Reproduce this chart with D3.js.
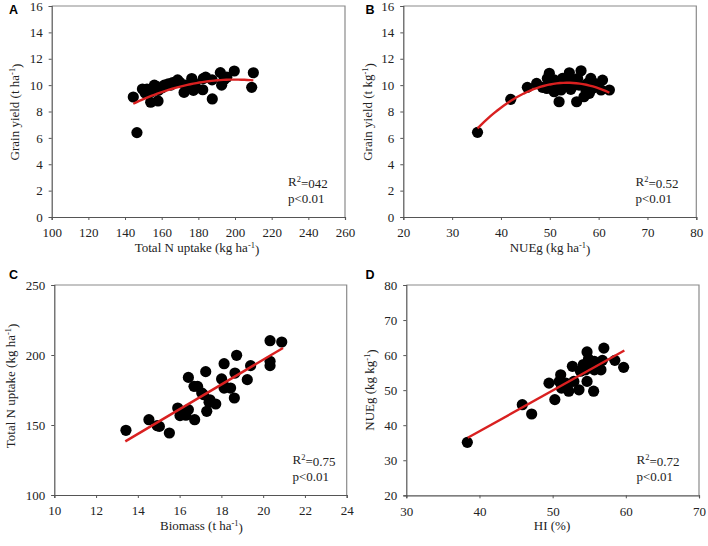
<!DOCTYPE html>
<html><head><meta charset="utf-8">
<script src="https://cdn.jsdelivr.net/npm/d3@7"></script>
<style>
body{margin:0;background:#fff}
text{font-family:"Liberation Serif","Times New Roman",serif;fill:#222}
.lbl{font-family:"Liberation Sans",Arial,sans-serif;font-weight:bold;fill:#000}
</style>
</head><body>
<svg id="c" width="708" height="546"></svg>
<script>
// ---- data ----
const aX=[144.5,146.5,149.5,151,152,154,154.5,156,157,158,158.2,160.3,161.4,163.6,165,166,168.7,170,172.2,173.3,175,176.4,177.3,178.2,182.4,182.7,184,187.5,187.6,192,192.7,194,195.5,199.6,209.1,210];
const aY=[9.1,6.4,9.7,9.4,9.7,8.7,9.5,10.0,9.9,8.8,9.6,9.8,10.0,10.1,10.0,10.2,10.4,10.2,9.45,10.0,9.8,10.5,9.6,10.1,9.65,10.5,10.6,10.4,8.95,10.95,10.0,10.4,10.6,11.07,9.83,10.94];
const bX=[35.2,42.0,45.4,47.3,48.5,49.4,49.5,49.9,50.2,50.9,50.9,51.2,51.9,51.9,52.3,52.6,53.3,54.0,54.3,54.3,55.0,55.5,55.7,56.0,56.4,57.0,57.4,57.7,58.1,58.4,58.7,59.1,59.8,60.5,60.8,62.2];
const bY=[6.42,8.92,9.83,10.13,9.83,9.75,10.51,10.9,10.13,9.5,10.4,9.88,10.26,8.74,9.63,10.51,10.13,10.94,10.38,9.68,10.0,8.74,10.5,10.0,11.09,9.12,9.63,10.13,9.38,10.51,9.75,10.13,10.0,9.63,10.38,9.63];
const cX=[13.43,14.53,14.93,15.03,15.51,15.91,16.02,16.1,16.26,16.3,16.42,16.42,16.72,16.69,16.86,17.06,17.14,17.25,17.30,17.41,17.45,17.73,18.01,18.13,18.13,18.2,18.44,18.62,18.65,18.73,19.24,19.40,20.33,20.33,20.33,20.89];
const cY=[146.2,153.8,149.5,149,144.3,162.1,156.7,158,158.6,157,161,184,153.8,177.6,177.6,172.9,171.7,188.1,159.8,166.2,168,165,182.9,193.8,176.4,177,176.4,169.3,187.1,199.8,182.4,192.4,210.2,195.5,192.4,209.3];
const dX=[38.34,45.85,47.13,49.5,50.3,50.9,51.1,51.2,51.8,52.0,52.2,52.7,52.9,53.6,53.8,54.2,54.5,54.7,54.7,54.9,55.2,55.6,55.7,55.7,56.6,56.8,57.0,58.5,59.7];
const dY=[35.1,45.85,43.2,52.0,47.3,52.5,54.4,50.6,52.0,51.1,49.7,56.8,52.5,50.1,55.4,57.3,55.8,60.9,52.5,58.9,57.7,49.7,55.8,58.2,55.8,58.5,62.0,58.5,56.5];
// fitted trend lines
const fitA={kind:"quad",peakY:10.42,peakX:200,k:0.000594,from:144.5,to:210};
const fitB={kind:"quad",peakY:10.18,peakX:53.6,k:0.01022,from:35.2,to:62.2};
const fitC={kind:"lin",x0:13.4,y0:138.3,x1:20.95,y1:205};
const fitD={kind:"lin",x0:38.4,y0:36.4,x1:59.8,y1:61.3};
// ticks
const ticksAx=[100,120,140,160,180,200,220,240,260], ticksAy=[0,2,4,6,8,10,12,14,16];
const ticksBx=[20,30,40,50,60,70,80], ticksBy=[0,2,4,6,8,10,12,14,16];
const ticksCx=[10,12,14,16,18,20,22,24], ticksCy=[100,150,200,250];
const ticksDx=[30,40,50,60,70], ticksDy=[20,30,40,50,60,70,80];
const statsA=["=042"], statsB=["=0.52"], statsC=["=0.75"], statsD=["=0.72"];

const svg=d3.select("#c");

function rich(sel, parts){
  parts.forEach(p=>{
    if(p[1]) sel.append("tspan").attr("dy","-0.45em").attr("font-size","0.65em").text(p[0]);
    else sel.append("tspan").attr("dy", p[2]||null).text(p[0]);
  });
}

function panel(o){
  const x=d3.scaleLinear().domain([o.xt[0],o.xt[o.xt.length-1]]).range([o.l,o.r]);
  const y=d3.scaleLinear().domain([o.yt[0],o.yt[o.yt.length-1]]).range([o.b,o.t]);
  const g=svg.append("g");
  g.append("path").attr("d",`M${o.l},${o.t}H${o.r}V${o.b}`).attr("fill","none").attr("stroke","#8a8a8a").attr("stroke-width",1.2);
  const ax=g.append("g").attr("transform",`translate(0,${o.b})`)
    .call(d3.axisBottom(x).tickValues(o.xt).tickSize(3).tickPadding(8).tickFormat(d3.format("d")));
  const ay=g.append("g").attr("transform",`translate(${o.l},0)`)
    .call(d3.axisLeft(y).tickValues(o.yt).tickSize(3).tickPadding(6).tickFormat(d3.format("d")));
  [ax,ay].forEach(a=>{
    a.select(".domain").attr("stroke","#555").attr("stroke-width",1.2);
    a.selectAll(".tick line").attr("stroke","#555");
    a.selectAll(".tick text").attr("font-size",13).attr("fill","#222")
      .attr("font-family","Liberation Serif, Times New Roman, serif");
  });
  g.selectAll("circle").data(o.xs.map((v,i)=>[v,o.ys[i]])).join("circle")
    .attr("cx",d=>x(d[0])).attr("cy",d=>y(d[1])).attr("r",5.6).attr("fill","#000");
  const f=o.fit;
  let pts;
  if(f.kind==="quad"){
    pts=d3.range(0,41).map(i=>{const xv=f.from+(f.to-f.from)*i/40;return [xv,f.peakY-f.k*(xv-f.peakX)**2];});
  } else pts=[[f.x0,f.y0],[f.x1,f.y1]];
  g.append("path").attr("d",d3.line().x(d=>x(d[0])).y(d=>y(d[1]))(pts))
    .attr("fill","none").attr("stroke","#d92020").attr("stroke-width",2.4);
  const t1=g.append("text").attr("x",o.sx).attr("y",o.b-31).attr("font-size",13);
  rich(t1,[["R"],["2",true],[o.stat[0],false,"0.45em"]]);
  g.append("text").attr("x",o.sx).attr("y",o.b-14).attr("font-size",13).text("p<0.01");
  const xt=g.append("text").attr("x",o.xtx).attr("y",o.b+35).attr("text-anchor","middle").attr("font-size",13);
  rich(xt,o.xtitle);
  const yt=g.append("text").attr("transform",`translate(${o.ytx},${o.yty}) rotate(-90)`).attr("text-anchor","middle").attr("font-size",13);
  rich(yt,o.ytitle);
  svg.append("text").attr("class","lbl").attr("x",o.lx).attr("y",o.ly).attr("font-size",12.5).text(o.letter);
}

panel({l:51.7,r:345,t:6,b:217,xt:ticksAx,yt:ticksAy,xs:aX,ys:aY,fit:fitA,stat:statsA,sx:288,
  xtx:197,xtitle:[["Total N uptake (kg ha"],["-1",true],[")",false,"0.45em"]],
  ytx:19,yty:112,ytitle:[["Grain yield (t ha"],["-1",true],[")",false,"0.45em"]],letter:"A",lx:9,ly:14});
panel({l:403.3,r:696.3,t:6,b:217,xt:ticksBx,yt:ticksBy,xs:bX,ys:bY,fit:fitB,stat:statsB,sx:635.5,
  xtx:550,xtitle:[["NUEg (kg ha"],["-1",true],[")",false,"0.45em"]],
  ytx:371.5,yty:112,ytitle:[["Grain yield (t kg"],["-1",true],[")",false,"0.45em"]],letter:"B",lx:365.5,ly:14});
panel({l:54.3,r:346.7,t:285,b:495,xt:ticksCx,yt:ticksCy,xs:cX,ys:cY,fit:fitC,stat:statsC,sx:292.5,
  xtx:201.5,xtitle:[["Biomass (t ha"],["-1",true],[")",false,"0.45em"]],
  ytx:15,yty:386,ytitle:[["Total N uptake (kg ha"],["-1",true],[")",false,"0.45em"]],letter:"C",lx:9,ly:279});
panel({l:406.3,r:699,t:285,b:495.3,xt:ticksDx,yt:ticksDy,xs:dX,ys:dY,fit:fitD,stat:statsD,sx:636.5,
  xtx:552,xtitle:[["HI (%)"]],
  ytx:374,yty:390,ytitle:[["NUEg (kg kg"],["-1",true],[")",false,"0.45em"]],letter:"D",lx:365.5,ly:279});
</script>
</body></html>
